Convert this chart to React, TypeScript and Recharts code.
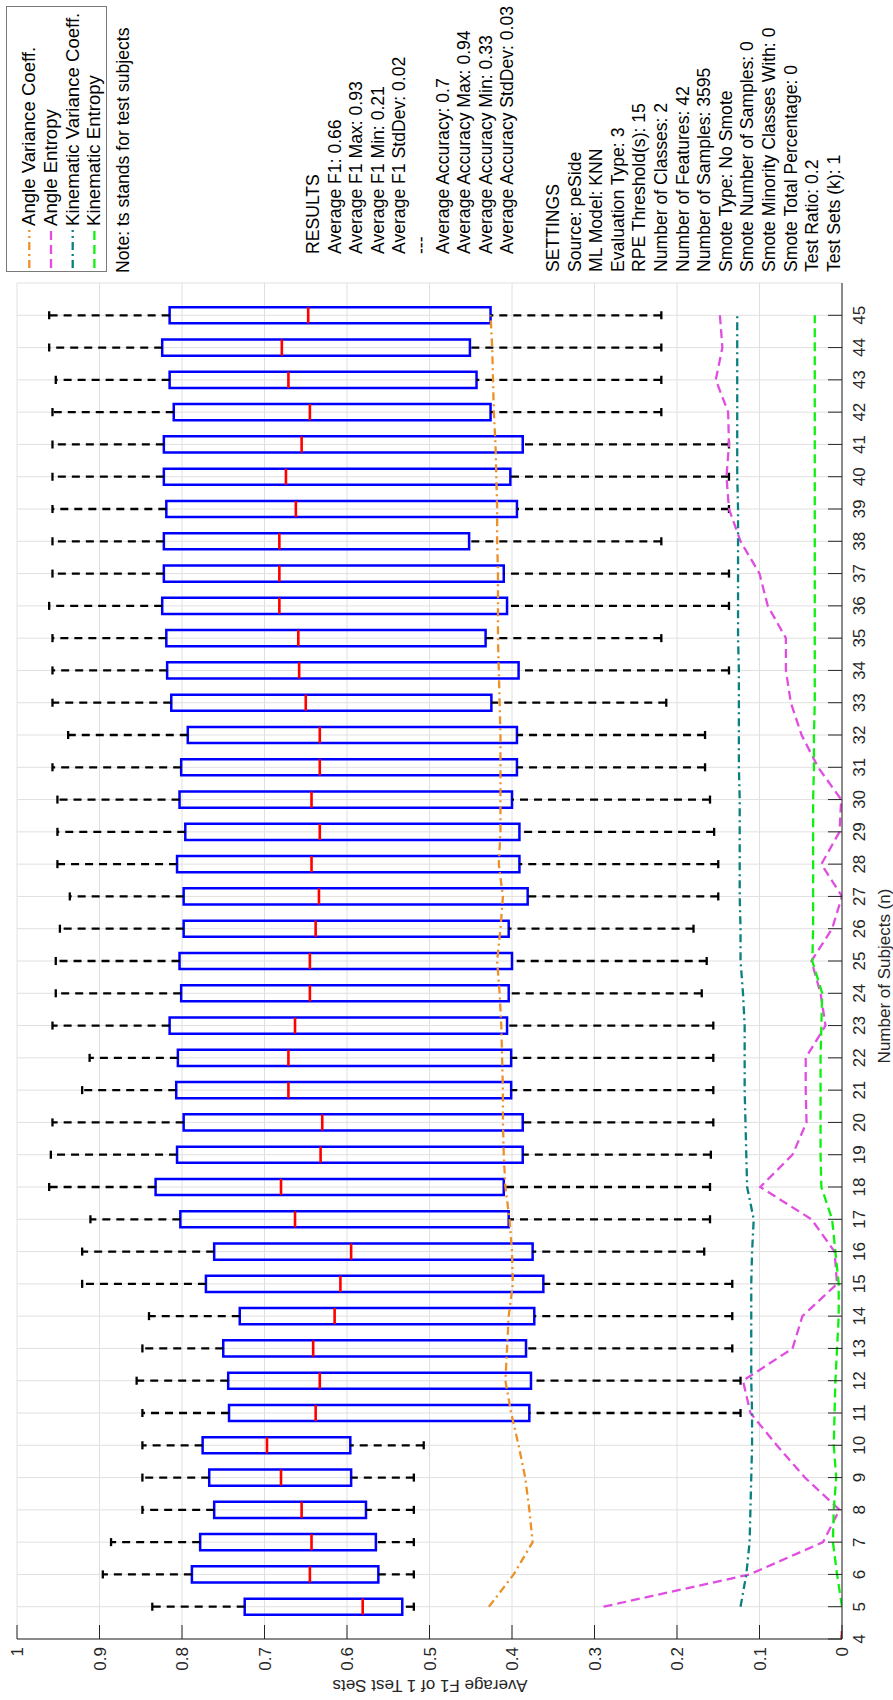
import React from 'react';
import {
  ComposedChart,
  Line,
  XAxis,
  YAxis,
  CartesianGrid,
  ReferenceArea,
  ReferenceLine,
} from 'recharts';

// ---------- data ----------
const subjects = [
  5, 6, 7, 8, 9, 10, 11, 12, 13, 14, 15, 16, 17, 18, 19, 20, 21, 22, 23, 24, 25,
  26, 27, 28, 29, 30, 31, 32, 33, 34, 35, 36, 37, 38, 39, 40, 41, 42, 43, 44, 45,
];
const angleVariance = [
  0.428, 0.398, 0.375, 0.379, 0.384, 0.392, 0.401, 0.408, 0.406, 0.404, 0.399,
  0.4, 0.403, 0.408, 0.41, 0.411, 0.411, 0.412, 0.413, 0.415, 0.418, 0.414,
  0.411, 0.416, 0.414, 0.414, 0.414, 0.414, 0.415, 0.416, 0.417, 0.417, 0.417,
  0.418, 0.418, 0.419, 0.42, 0.422, 0.423, 0.424, 0.426,
];
const angleEntropy = [
  0.289, 0.112, 0.023, 0.003, 0.045, 0.079, 0.111, 0.12, 0.06, 0.048, 0.006,
  0.009, 0.037, 0.099, 0.06, 0.043, 0.044, 0.044, 0.02, 0.026, 0.037, 0.012,
  0.0, 0.025, 0.003, 0.001, 0.029, 0.049, 0.062, 0.068, 0.068, 0.09, 0.1,
  0.123, 0.137, 0.14, 0.137, 0.138, 0.153, 0.145, 0.148,
];
const kinematicVariance = [
  0.123, 0.116, 0.112, 0.111, 0.11, 0.109, 0.109, 0.11, 0.11, 0.11, 0.11,
  0.109, 0.107, 0.115, 0.116, 0.117, 0.118, 0.118, 0.118, 0.12, 0.123, 0.123,
  0.124, 0.124, 0.124, 0.124, 0.125, 0.125, 0.125, 0.125, 0.126, 0.126, 0.126,
  0.126, 0.126, 0.127, 0.127, 0.127, 0.127, 0.127, 0.127,
];
const kinematicEntropy = [
  0.0, 0.006, 0.011, 0.01, 0.007, 0.01, 0.009, 0.008, 0.006, 0.004, 0.004,
  0.008, 0.012, 0.025, 0.026, 0.026, 0.026, 0.026, 0.025, 0.024, 0.036, 0.035,
  0.035, 0.035, 0.035, 0.035, 0.034, 0.034, 0.033, 0.033, 0.033, 0.033, 0.033,
  0.033, 0.033, 0.033, 0.033, 0.033, 0.033, 0.033, 0.033,
];

const boxSubjects = [
  4, 5, 6, 7, 8, 9, 10, 11, 12, 13, 14, 15, 16, 17, 18, 19, 20, 21, 22, 23, 24,
  25, 26, 27, 28, 29, 30, 31, 32, 33, 34, 35, 36, 37, 38, 39, 40, 41, 42, 43, 44, 45,
];
const boxMin = [
  0, 0.519, 0.519, 0.519, 0.519, 0.519, 0.507, 0.123, 0.123, 0.133, 0.133,
  0.133, 0.167, 0.16, 0.16, 0.159, 0.156, 0.156, 0.156, 0.156, 0.17, 0.164,
  0.18, 0.15, 0.15, 0.155, 0.16, 0.166, 0.166, 0.213, 0.137, 0.219, 0.137,
  0.137, 0.219, 0.137, 0.137, 0.137, 0.219, 0.219, 0.219, 0.219,
];
const boxQ1 = [
  0, 0.533, 0.562, 0.565, 0.577, 0.595, 0.596, 0.379, 0.377, 0.383, 0.373,
  0.362, 0.375, 0.404, 0.41, 0.387, 0.387, 0.401, 0.401, 0.406, 0.404, 0.4,
  0.404, 0.381, 0.391, 0.391, 0.4, 0.394, 0.394, 0.425, 0.392, 0.432, 0.406,
  0.41, 0.452, 0.394, 0.402, 0.387, 0.426, 0.443, 0.451, 0.426,
];
const boxMedian = [
  0, 0.581, 0.645, 0.643, 0.655, 0.68, 0.697, 0.638, 0.633, 0.641, 0.615,
  0.608, 0.595, 0.663, 0.68, 0.632, 0.63, 0.671, 0.671, 0.663, 0.645, 0.645,
  0.638, 0.634, 0.643, 0.633, 0.643, 0.633, 0.633, 0.65, 0.658, 0.659, 0.682,
  0.682, 0.682, 0.662, 0.674, 0.655, 0.645, 0.671, 0.679, 0.647,
];
const boxQ3 = [
  0, 0.724, 0.788, 0.778, 0.761, 0.767, 0.775, 0.743, 0.744, 0.75, 0.73,
  0.771, 0.761, 0.802, 0.832, 0.806, 0.798, 0.807, 0.805, 0.815, 0.801, 0.803,
  0.798, 0.798, 0.806, 0.796, 0.803, 0.801, 0.793, 0.813, 0.818, 0.819, 0.824,
  0.822, 0.822, 0.819, 0.822, 0.822, 0.81, 0.815, 0.824, 0.815,
];
const boxMax = [
  0, 0.836, 0.896, 0.886, 0.848, 0.848, 0.848, 0.848, 0.855, 0.848, 0.84,
  0.921, 0.921, 0.911, 0.961, 0.959, 0.957, 0.921, 0.912, 0.957, 0.953, 0.953,
  0.948, 0.936, 0.951, 0.951, 0.951, 0.957, 0.938, 0.957, 0.957, 0.957, 0.961,
  0.957, 0.957, 0.957, 0.957, 0.957, 0.957, 0.953, 0.961, 0.961,
];

const xTicks = [
  4, 5, 6, 7, 8, 9, 10, 11, 12, 13, 14, 15, 16, 17, 18, 19, 20, 21, 22, 23, 24,
  25, 26, 27, 28, 29, 30, 31, 32, 33, 34, 35, 36, 37, 38, 39, 40, 41, 42, 43, 44, 45,
];
const yTicks = [0, 0.1, 0.2, 0.3, 0.4, 0.5, 0.6, 0.7, 0.8, 0.9, 1];

const legendItems = [
  { label: 'Angle Variance Coeff.', color: '#EE9028', dash: '8 4 2 4' },
  { label: 'Angle Entropy', color: '#E04DE0', dash: '9 5' },
  { label: 'Kinematic Variance Coeff.', color: '#0A8080', dash: '8 4 2 4' },
  { label: 'Kinematic Entropy', color: '#10F010', dash: '9 5' },
];

const resultsLines = [
  'RESULTS',
  'Average F1: 0.66',
  'Average F1 Max: 0.93',
  'Average F1 Min: 0.21',
  'Average F1 StdDev: 0.02',
  '---',
  'Average Accuracy: 0.7',
  'Average Accuracy Max: 0.94',
  'Average Accuracy Min: 0.33',
  'Average Accuracy StdDev: 0.03',
];
const settingsLines = [
  'SETTINGS',
  'Source: peSide',
  'ML Model: KNN',
  'Evaluation Type: 3',
  'RPE Threshold(s): 15',
  'Number of Classes: 2',
  'Number of Features: 42',
  'Number of Samples: 3595',
  'Smote Type: No Smote',
  'Smote Number of Samples: 0',
  'Smote Minority Classes With: 0',
  'Smote Total Percentage: 0',
  'Test Ratio: 0.2',
  'Test Sets (k): 1',
];

// ---------- layout ----------
const W = 1700;
const H = 893;
const FONT = '"Liberation Sans", Arial, Helvetica, sans-serif';
const AX = '#262626';
const FS = 17;
const FS_TEXT = 17.6;
const FS_LEGEND = 18.6;
const LH = 21.6;

const Txt = ({
  x,
  cy,
  size,
  children,
}: {
  x: number;
  cy: number;
  size: number;
  children: React.ReactNode;
}) => (
  <div
    style={{
      position: 'absolute',
      left: x,
      top: cy - 11,
      lineHeight: '22px',
      fontSize: size,
      whiteSpace: 'pre',
      color: '#000',
      fontFamily: FONT,
    }}
  >
    {children}
  </div>
);

export default function App() {
  const lineData = subjects.map((n, i) => ({
    n,
    angleVariance: angleVariance[i],
    angleEntropy: angleEntropy[i],
    kinematicVariance: kinematicVariance[i],
    kinematicEntropy: kinematicEntropy[i],
  }));
  const boxes = boxSubjects.map((n, i) => ({
    n,
    min: boxMin[i],
    q1: boxQ1[i],
    med: boxMedian[i],
    q3: boxQ3[i],
    max: boxMax[i],
  }));
  const hw = 0.25;
  const cw = 0.125;
  const tickStyle = { fontSize: FS, fill: AX, fontFamily: FONT };

  return (
    <div
      style={{
        position: 'absolute',
        left: 0,
        top: 0,
        width: 893,
        height: 1700,
        overflow: 'hidden',
        background: '#fff',
      }}
    >
      <div
        style={{
          position: 'absolute',
          left: 0,
          top: 0,
          width: W,
          height: H,
          transformOrigin: '0 0',
          transform: 'translateY(1700px) rotate(-90deg)',
          fontFamily: FONT,
          background: '#fff',
        }}
      >
        <ComposedChart
          width={W}
          height={H}
          data={lineData}
          margin={{ top: 17, right: 283, bottom: 0, left: 0 }}
        >
          <CartesianGrid stroke="#e0e0e0" strokeWidth={1} />
          <XAxis
            dataKey="n"
            type="number"
            domain={[4, 46]}
            ticks={xTicks}
            interval={0}
            height={51}
            tickSize={-14}
            tickMargin={25}
            stroke={AX}
            tick={tickStyle}
            allowDataOverflow
          />
          <XAxis
            xAxisId="top"
            orientation="top"
            type="number"
            domain={[4, 46]}
            ticks={xTicks}
            interval={0}
            height={0}
            tickSize={-14}
            tick={false}
            stroke={AX}
            allowDataOverflow
          />
          <YAxis
            type="number"
            domain={[0, 1]}
            ticks={yTicks}
            interval={0}
            width={61}
            tickSize={-14}
            tickMargin={22}
            stroke={AX}
            tick={tickStyle}
            allowDataOverflow
          />
          <YAxis
            yAxisId="right"
            orientation="right"
            type="number"
            domain={[0, 1]}
            ticks={yTicks}
            interval={0}
            width={0}
            tickSize={-14}
            tick={false}
            stroke={AX}
            allowDataOverflow
          />

          {boxes.map((b) => (
            <ReferenceArea
              key={`box-${b.n}`}
              x1={b.n - hw}
              x2={b.n + hw}
              y1={b.q1}
              y2={b.q3}
              fill="none"
              fillOpacity={0}
              stroke="#0000FF"
              strokeWidth={2.5}
              ifOverflow="hidden"
            />
          ))}
          {boxes.map((b) => (
            <ReferenceLine
              key={`wu-${b.n}`}
              segment={[
                { x: b.n, y: b.q3 },
                { x: b.n, y: b.max },
              ]}
              stroke="#000"
              strokeWidth={2.3}
              strokeDasharray="8 6"
              ifOverflow="hidden"
            />
          ))}
          {boxes.map((b) => (
            <ReferenceLine
              key={`wl-${b.n}`}
              segment={[
                { x: b.n, y: b.min },
                { x: b.n, y: b.q1 },
              ]}
              stroke="#000"
              strokeWidth={2.3}
              strokeDasharray="8 6"
              ifOverflow="hidden"
            />
          ))}
          {boxes.map((b) => (
            <ReferenceLine
              key={`cu-${b.n}`}
              segment={[
                { x: b.n - cw, y: b.max },
                { x: b.n + cw, y: b.max },
              ]}
              stroke="#000"
              strokeWidth={2.3}
              ifOverflow="hidden"
            />
          ))}
          {boxes.map((b) => (
            <ReferenceLine
              key={`cl-${b.n}`}
              segment={[
                { x: b.n - cw, y: b.min },
                { x: b.n + cw, y: b.min },
              ]}
              stroke="#000"
              strokeWidth={2.3}
              ifOverflow="hidden"
            />
          ))}
          {boxes.map((b) => (
            <ReferenceLine
              key={`md-${b.n}`}
              segment={[
                { x: b.n - hw, y: b.med },
                { x: b.n + hw, y: b.med },
              ]}
              stroke="#FF0000"
              strokeWidth={2.6}
              ifOverflow="hidden"
            />
          ))}

          <Line
            dataKey="angleVariance"
            stroke={legendItems[0].color}
            strokeWidth={2.3}
            strokeDasharray={legendItems[0].dash}
            dot={false}
            activeDot={false}
            isAnimationActive={false}
          />
          <Line
            dataKey="angleEntropy"
            stroke={legendItems[1].color}
            strokeWidth={2.3}
            strokeDasharray={legendItems[1].dash}
            dot={false}
            activeDot={false}
            isAnimationActive={false}
          />
          <Line
            dataKey="kinematicVariance"
            stroke={legendItems[2].color}
            strokeWidth={2.3}
            strokeDasharray={legendItems[2].dash}
            dot={false}
            activeDot={false}
            isAnimationActive={false}
          />
          <Line
            dataKey="kinematicEntropy"
            stroke={legendItems[3].color}
            strokeWidth={2.3}
            strokeDasharray={legendItems[3].dash}
            dot={false}
            activeDot={false}
            isAnimationActive={false}
          />
        </ComposedChart>

        {/* axis titles */}
        <div
          style={{
            position: 'absolute',
            left: 724,
            top: 884,
            transform: 'translate(-50%, -50%)',
            fontSize: FS,
            whiteSpace: 'nowrap',
            color: AX,
            lineHeight: '21px',
          }}
        >
          Number of Subjects (n)
        </div>
        <div
          style={{
            position: 'absolute',
            left: 15,
            top: 430,
            transform: 'translate(-50%, -50%) rotate(-90deg)',
            fontSize: FS,
            whiteSpace: 'nowrap',
            color: AX,
            lineHeight: '21px',
          }}
        >
          Average F1 of 1 Test Sets
        </div>

        {/* legend */}
        <div
          style={{
            position: 'absolute',
            left: 1428,
            top: 6,
            width: 266,
            height: 101,
            border: '1px solid #7a7a7a',
            boxSizing: 'border-box',
            background: '#fff',
          }}
        />
        <svg
          style={{ position: 'absolute', left: 0, top: 0, overflow: 'visible' }}
          width={1}
          height={1}
        >
          {legendItems.map((it, i) => (
            <line
              key={it.label}
              x1={1432}
              x2={1470}
              y1={29.3 + i * 21.7}
              y2={29.3 + i * 21.7}
              stroke={it.color}
              strokeWidth={2.3}
              strokeDasharray={it.dash}
            />
          ))}
        </svg>
        {legendItems.map((it, i) => (
          <Txt key={it.label} x={1474} cy={29.3 + i * 21.7} size={FS_LEGEND}>
            {it.label}
          </Txt>
        ))}

        <Txt x={1427} cy={123} size={FS_TEXT}>
          Note: ts stands for test subjects
        </Txt>

        {resultsLines.map((t, i) => (
          <Txt key={`r${i}`} x={1446} cy={313 + i * LH} size={FS_TEXT}>
            {t}
          </Txt>
        ))}
        {settingsLines.map((t, i) => (
          <Txt key={`s${i}`} x={1428} cy={553 + i * LH} size={FS_TEXT}>
            {t}
          </Txt>
        ))}
      </div>
    </div>
  );
}
